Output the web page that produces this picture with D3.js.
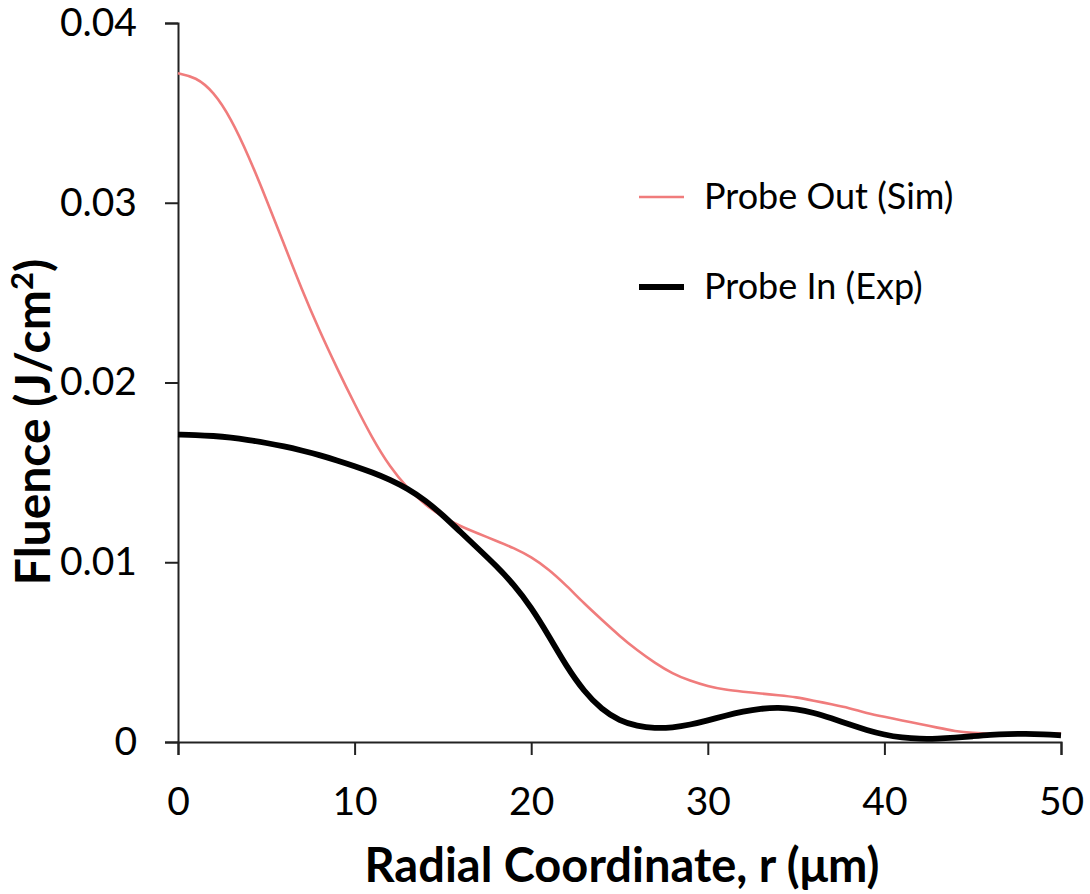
<!DOCTYPE html>
<html>
<head>
<meta charset="utf-8">
<script src="https://cdn.jsdelivr.net/npm/d3@7"></script>
<style>
  html, body { margin: 0; padding: 0; background: #fff; }
  svg { display: block; }
  text { font-family: Lato, "Open Sans", sans-serif; fill: #000; }
</style>
</head>
<body>
<svg id="chart" width="1090" height="894"></svg>
<script>
// Radial coordinate r (µm), shared by both series
const radius = [0,1,2,3,4,5,6,7,8,9,10,11,12,13,14,15,16,17,18,19,20,21,22,23,24,25,26,27,28,29,30,31,32,33,34,35,36,37,38,39,40,41,42,43,44,45,46,47,48,49,50];
// Probe Out (Sim) fluence (J/cm²)
const fluenceOut = [0.0372,0.0370,0.0362,0.0347,0.0326,0.0302,0.0277,0.0252,0.0229,0.0208,0.0188,0.0169,0.0153,0.0141,0.0132,0.0125,0.0120,0.0116,0.0112,0.0108,0.0103,0.0096,0.0087,0.0077,0.0068,0.0059,0.0051,0.0044,0.0038,0.0034,0.0031,0.0029,0.0028,0.0027,0.0026,0.0025,0.0023,0.0021,0.0019,0.0016,0.0014,0.0012,0.0010,0.0008,0.0006,0.0005,0.00045,0.00045,0.00045,0.00046,0.00048];
// Probe In (Exp) fluence (J/cm²)
const fluenceIn = [0.0171,0.01708,0.01703,0.01694,0.0168,0.01664,0.01645,0.01622,0.01597,0.01567,0.01535,0.01500,0.01460,0.01410,0.01345,0.01262,0.01168,0.01075,0.00982,0.00878,0.00750,0.00590,0.00420,0.00280,0.00180,0.00118,0.00088,0.00076,0.00080,0.00096,0.00120,0.00147,0.00170,0.00186,0.00192,0.00184,0.00163,0.00132,0.00098,0.00066,0.00040,0.00024,0.00017,0.00018,0.00024,0.00032,0.00040,0.00045,0.00046,0.00043,0.00037];

const xTicks = [0,10,20,30,40,50];
const yTicks = [0,0.01,0.02,0.03,0.04];
const seriesNames = ["Probe Out (Sim)", "Probe In (Exp)"];
const seriesColors = ["#f07c7c", "#000000"];
const seriesWidths = [2.6, 5.8];

const svg = d3.select("#chart");
const x = d3.scaleLinear().domain([0, 50]).range([178, 1061]);
const y = d3.scaleLinear().domain([0, 0.04]).range([742, 23]);

// axes
const yAxis = svg.append("g")
  .attr("transform", `translate(${x(0)},0)`)
  .call(d3.axisLeft(y).tickValues(yTicks).tickSize(13).tickPadding(28)
        .tickFormat(d => d === 0 ? "0" : d3.format(".2f")(d)));
const xAxis = svg.append("g")
  .attr("transform", `translate(0,${y(0)})`)
  .call(d3.axisBottom(x).tickValues(xTicks).tickSize(13).tickPadding(32));

[yAxis, xAxis].forEach(g => {
  g.select(".domain").attr("stroke", "#222").attr("stroke-width", 2);
  g.selectAll(".tick line").attr("stroke", "#222").attr("stroke-width", 2);
  g.selectAll(".tick text").attr("font-family", "Lato, sans-serif")
    .attr("font-size", 39).attr("fill", "#000");
});

// series lines, smoothed
const line = d3.line().x(d => x(d[0])).y(d => y(d[1])).curve(d3.curveBasis);
const series = [fluenceOut, fluenceIn].map(vals => radius.map((r, i) => [r, vals[i]]));

series.forEach((data, i) => {
  svg.append("path").datum(data)
    .attr("d", line).attr("fill", "none")
    .attr("stroke", seriesColors[i]).attr("stroke-width", seriesWidths[i])
    .attr("stroke-linejoin", "round");
});

// legend
const legend = svg.append("g");
const legendY = [197, 287];
seriesNames.forEach((name, i) => {
  legend.append("line").attr("x1", 639).attr("x2", 684)
    .attr("y1", legendY[i]).attr("y2", legendY[i])
    .attr("stroke", seriesColors[i]).attr("stroke-width", seriesWidths[i]);
  legend.append("text").attr("x", 704).attr("y", legendY[i] + 12)
    .attr("font-size", 36).text(name);
});

// axis titles
svg.append("text").attr("x", 622).attr("y", 882)
  .attr("text-anchor", "middle").attr("font-weight", "bold").attr("font-size", 47)
  .text("Radial Coordinate, r (μm)");

const yt = svg.append("text")
  .attr("transform", "translate(50,422) rotate(-90)")
  .attr("text-anchor", "middle").attr("font-weight", "bold").attr("font-size", 48);
yt.append("tspan").text("Fluence (J/cm");
yt.append("tspan").attr("font-size", 31).attr("dy", -17).text("2");
yt.append("tspan").attr("dy", 17).text(")");
</script>
</body>
</html>
